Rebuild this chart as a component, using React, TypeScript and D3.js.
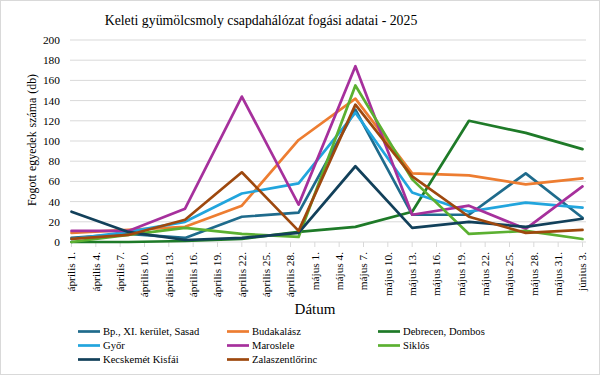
import React from "react";
import * as d3 from "d3";

const title = "Keleti gyümölcsmoly csapdahálózat fogási adatai - 2025";
const yTitle = "Fogott egyedek száma (db)";
const xTitle = "Dátum";

const sampleDates = [
  "2025-04-01", "2025-04-08", "2025-04-15", "2025-04-22", "2025-04-29",
  "2025-05-06", "2025-05-13", "2025-05-20", "2025-05-27", "2025-06-03",
];

const tickDates = [
  "2025-04-01", "2025-04-04", "2025-04-07", "2025-04-10", "2025-04-13", "2025-04-16",
  "2025-04-19", "2025-04-22", "2025-04-25", "2025-04-28", "2025-05-01", "2025-05-04",
  "2025-05-07", "2025-05-10", "2025-05-13", "2025-05-16", "2025-05-19", "2025-05-22",
  "2025-05-25", "2025-05-28", "2025-05-31", "2025-06-03",
];
const tickLabels = [
  "április 1.", "április 4.", "április 7.", "április 10.", "április 13.", "április 16.",
  "április 19.", "április 22.", "április 25.", "április 28.", "május 1.", "május 4.",
  "május 7.", "május 10.", "május 13.", "május 16.", "május 19.", "május 22.",
  "május 25.", "május 28.", "május 31.", "június 3.",
];
const yTicks = [0, 20, 40, 60, 80, 100, 120, 140, 160, 180, 200];

const seriesNames = [
  "Bp., XI. kerület, Sasad", "Budakalász", "Debrecen, Dombos",
  "Győr", "Maroslele", "Siklós",
  "Kecskemét Kisfái", "Zalaszentlőrinc",
];
const seriesColors = [
  "#1f6b8c", "#ed7d31", "#1e7a28",
  "#22a5dd", "#a6309c", "#5bb031",
  "#12405a", "#9e480e",
];
const bpSasad = [4, 8, 4, 25, 29, 131, 27, 27, 68, 24];
const budakalasz = [9, 12, 15, 36, 101, 142, 68, 66, 57, 63];
const debrecen = [0, 0, 1, 3, 10, 15, 30, 120, 108, 92];
const gyor = [3, 10, 20, 48, 58, 128, 49, 30, 39, 34];
const maroslele = [11, 11, 33, 144, 37, 174, 27, 36, 13, 55];
const siklos = [0, 7, 14, 8, 5, 155, 62, 8, 11, 3];
const kecskemet = [30, 10, 2, 4, 9, 75, 14, 20, 15, 23];
const zalaszentlorinc = [3, 7, 22, 69, 11, 136, 65, 25, 9, 12];
const seriesValues = [bpSasad, budakalasz, debrecen, gyor, maroslele, siklos, kecskemet, zalaszentlorinc];

const W = 600;
const H = 375;
const FONT = "'Liberation Serif', 'Times New Roman', serif";

export default function App() {
  const parse = d3.utcParse("%Y-%m-%d");
  const x = d3
    .scaleUtc()
    .domain([parse("2025-04-01")!, parse("2025-06-03")!])
    .range([71.5, 582.5]);
  const y = d3.scaleLinear().domain([0, 200]).range([242, 40]);
  const plotLeft = 70;
  const plotRight = 586;

  const line = d3
    .line<[Date, number]>()
    .x((d) => x(d[0]))
    .y((d) => y(d[1]));

  const dates = sampleDates.map((s) => parse(s)!);

  const legendCols = [78, 227, 378];
  const legendRows = [331.5, 345.5, 359.5];

  return (
    <svg
      width={W}
      height={H}
      style={{ position: "fixed", left: 0, top: 0, background: "#fff" }}
      fontFamily={FONT}
    >
      <rect x={0.5} y={0.5} width={W - 1} height={H - 1} fill="#fff" stroke="#d9d9d9" />
      <text x={261} y={25} textAnchor="middle" fontSize={13.8} fill="#000">
        {title}
      </text>

      {yTicks.map((t) => (
        <line
          key={"g" + t}
          x1={plotLeft}
          x2={plotRight}
          y1={y(t)}
          y2={y(t)}
          stroke="#d9d9d9"
          strokeWidth={1}
        />
      ))}
      {yTicks.map((t) => (
        <text key={"yl" + t} x={60} y={y(t)} dy="0.35em" textAnchor="end" fontSize={11.4} fill="#000">
          {t}
        </text>
      ))}
      {tickDates.map((s, i) => {
        const xx = x(parse(s)!);
        return (
          <g key={"xt" + s}>
            <line x1={xx} x2={xx} y1={242} y2={247} stroke="#d9d9d9" />
            <text
              transform={`translate(${xx},252) rotate(-90)`}
              textAnchor="end"
              dy="0.35em"
              fontSize={11.3}
              fill="#000"
            >
              {tickLabels[i]}
            </text>
          </g>
        );
      })}

      {seriesValues.map((vals, si) => (
        <path
          key={"s" + si}
          d={line(vals.map((v, i) => [dates[i], v] as [Date, number])) || ""}
          fill="none"
          stroke={seriesColors[si]}
          strokeWidth={2.7}
          strokeLinejoin="round"
          strokeLinecap="round"
        />
      ))}

      <text
        transform={`translate(32,140) rotate(-90)`}
        textAnchor="middle"
        dy="0.35em"
        fontSize={11.9}
        fill="#000"
        wordSpacing={1}
      >
        {yTitle}
      </text>
      <text x={315} y={314} textAnchor="middle" fontSize={15} fill="#000">
        {xTitle}
      </text>

      {seriesNames.map((name, i) => {
        const lx = legendCols[i % 3];
        const ly = legendRows[Math.floor(i / 3)];
        return (
          <g key={"lg" + i}>
            <line x1={lx} x2={lx + 22} y1={ly} y2={ly} stroke={seriesColors[i]} strokeWidth={2.7} />
            <text x={lx + 25} y={ly} dy="0.35em" fontSize={10.6} fill="#000">
              {name}
            </text>
          </g>
        );
      })}
    </svg>
  );
}
